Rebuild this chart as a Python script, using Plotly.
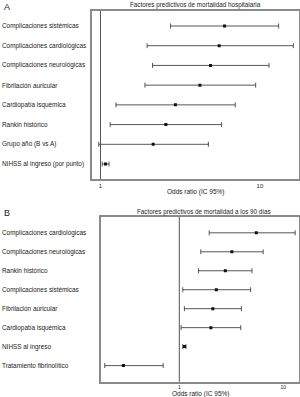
import plotly.graph_objects as go

# Panel A data
cats_a = ["Complicaciones sistémicas", "Complicaciones cardiológicas", "Complicaciones neurológicas",
          "Fibrilación auricular", "Cardiopatía isquémica", "Rankin histórico",
          "Grupo año (B vs A)", "NIHSS al ingreso (por punto)"]
or_a = [6.0, 5.55, 4.9, 4.2, 2.95, 2.57, 2.14, 1.075]
lo_a = [2.75, 1.96, 2.12, 1.9, 1.25, 1.15, 0.975, 1.025]
hi_a = [13.1, 16.2, 11.4, 9.4, 7.0, 5.75, 4.75, 1.13]

# Panel B data
cats_b = ["Complicaciones cardiológicas", "Complicaciones neurológicas", "Rankin histórico",
          "Complicaciones sistémicas", "Fibrilación auricular", "Cardiopatía isquémica",
          "NIHSS al ingreso", "Tratamiento fibrinolítico"]
or_b = [5.5, 3.2, 2.77, 2.27, 2.1, 2.01, 1.12, 0.29]
lo_b = [1.94, 1.61, 1.53, 1.08, 1.12, 1.04, 1.08, 0.192]
hi_b = [13.0, 6.4, 5.0, 4.85, 3.95, 3.9, 1.16, 0.70]

title_a = "Factores predictivos de mortalidad hospitalaria"
title_b = "Factores predictivos de mortalidad a los 90 días"
xtitle = "Odds ratio (IC 95%)"
tickvals = [1, 10]
ticktext = ["1", "10"]

FONT = "Liberation Sans, Arial, sans-serif"
TXT = "#222"
W, H = 300, 397

fig = go.Figure()

def add_panel(cats, ors, los, his, xa, ya):
    fig.add_trace(go.Scatter(
        x=ors, y=cats, mode="markers", xaxis=xa, yaxis=ya,
        marker=dict(color="#111", size=3, symbol="square"),
        error_x=dict(type="data", symmetric=False,
                     array=[h - o for h, o in zip(his, ors)],
                     arrayminus=[o - l for o, l in zip(ors, los)],
                     color="#444", thickness=0.9, width=2.5),
        showlegend=False, hoverinfo="skip"))

add_panel(cats_a, or_a, lo_a, hi_a, "x", "y")
add_panel(cats_b, or_b, lo_b, hi_b, "x2", "y2")

def py(px):
    return 1 - px / H

dom_a_x = [91.5 / W, 299 / W]
dom_a_y = [py(179), py(11)]
dom_b_x = [101 / W, 299 / W]
dom_b_y = [py(381.7), py(216.7)]

axcommon = dict(type="log", showgrid=False, zeroline=False, showline=True, mirror=True,
                linecolor="#8a8a8a", linewidth=1.5, ticks="", ticklen=0, tickvals=tickvals, ticktext=ticktext,
                fixedrange=True)
aycommon = dict(showgrid=False, zeroline=False, showline=True, mirror=True,
                linecolor="#8a8a8a", linewidth=1.5, showticklabels=False, ticks="", fixedrange=True)

fig.update_layout(
    width=W, height=H, margin=dict(l=0, r=0, t=0, b=0),
    paper_bgcolor="white", plot_bgcolor="white",
    xaxis=dict(axcommon, domain=dom_a_x, anchor="y", range=[-0.0565, 1.245],
               tickfont=dict(family=FONT, size=6, color=TXT)),
    yaxis=dict(aycommon, domain=dom_a_y, anchor="x", type="category",
               categoryarray=cats_a, range=[7.76, -0.76]),
    xaxis2=dict(axcommon, domain=dom_b_x, anchor="y2", range=[-0.753, 1.151],
                tickfont=dict(family=FONT, size=5, color=TXT)),
    yaxis2=dict(aycommon, domain=dom_b_y, anchor="x2", type="category",
                categoryarray=cats_b, range=[7.85, -0.85]),
)

# reference lines at OR = 1
fig.add_shape(type="line", xref="x", yref="y domain", x0=1, x1=1, y0=0, y1=1,
              line=dict(color="#555", width=1))
fig.add_shape(type="line", xref="x2", yref="y2 domain", x0=1, x1=1, y0=0, y1=1,
              line=dict(color="#555", width=1))

LBL = 6.4
ann = []
for c in cats_a:
    ann.append(dict(x=0.0, xref="paper", y=c, yref="y", text=c, showarrow=False,
                    xanchor="left", yanchor="middle", font=dict(family=FONT, size=LBL, color=TXT)))
for c in cats_b:
    ann.append(dict(x=0.0, xref="paper", y=c, yref="y2", text=c, showarrow=False,
                    xanchor="left", yanchor="middle", font=dict(family=FONT, size=LBL, color=TXT)))
# panel titles
ann.append(dict(x=sum(dom_a_x) / 2, xref="paper", y=py(5), yref="paper", text=title_a,
                showarrow=False, xanchor="center", yanchor="middle", font=dict(family=FONT, size=6.3, color=TXT)))
ann.append(dict(x=sum(dom_b_x) / 2 + 4 / W, xref="paper", y=py(211.5), yref="paper", text=title_b,
                showarrow=False, xanchor="center", yanchor="middle", font=dict(family=FONT, size=6.3, color=TXT)))
# axis titles
ann.append(dict(x=sum(dom_a_x) / 2, xref="paper", y=py(192), yref="paper", text=xtitle,
                showarrow=False, xanchor="center", yanchor="middle", font=dict(family=FONT, size=6.5, color=TXT)))
ann.append(dict(x=sum(dom_b_x) / 2, xref="paper", y=py(393.5), yref="paper", text=xtitle,
                showarrow=False, xanchor="center", yanchor="middle", font=dict(family=FONT, size=6.5, color=TXT)))
# panel letters
ann.append(dict(x=2 / W, xref="paper", y=py(7), yref="paper", text="A", showarrow=False,
                xanchor="left", yanchor="middle", font=dict(family=FONT, size=9, color=TXT)))
ann.append(dict(x=2 / W, xref="paper", y=py(213), yref="paper", text="B", showarrow=False,
                xanchor="left", yanchor="middle", font=dict(family=FONT, size=9, color=TXT)))

fig.update_layout(annotations=ann)
fig.write_html("out.html")
